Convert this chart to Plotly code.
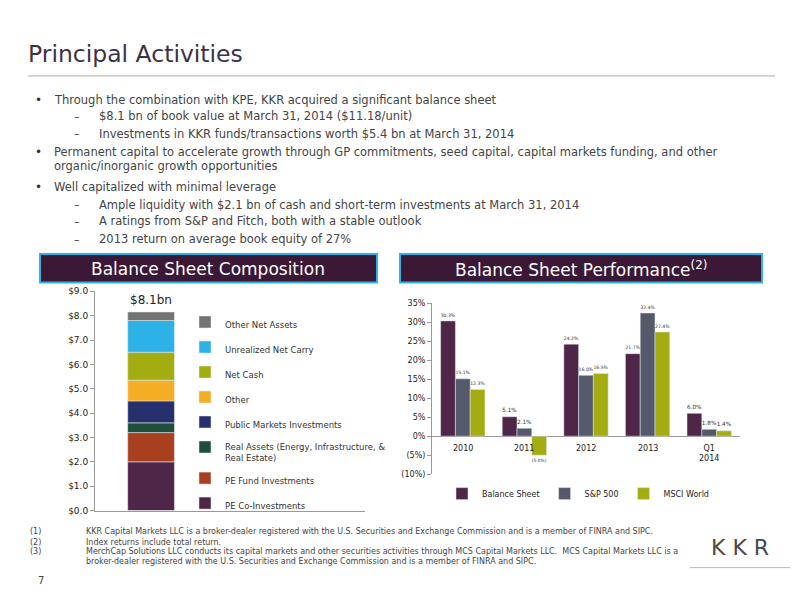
import plotly.graph_objects as go

comp_names = ["PE Co-Investments", "PE Fund Investments", "Real Assets (Energy, Infrastructure, &<br>Real Estate)",
              "Public Markets Investments", "Other", "Net Cash", "Unrealized Net Carry", "Other Net Assets"]
comp_values = [2.0, 1.2, 0.4, 0.9, 0.85, 1.15, 1.3, 0.35]
comp_colors = ["#4f2548", "#a8401f", "#1f4f3a", "#27306e", "#f5ad25", "#a3ad12", "#2cb2e6", "#737373"]
comp_ticks = ["$0.0", "$1.0", "$2.0", "$3.0", "$4.0", "$5.0", "$6.0", "$7.0", "$8.0", "$9.0"]

perf_cats = ["2010", "2011", "2012", "2013", "Q1<br>2014"]
perf_series = {
    "Balance Sheet": [30.3, 5.1, 24.2, 21.7, 6.0],
    "S&P 500": [15.1, 2.1, 16.0, 32.4, 1.8],
    "MSCI World": [12.3, -5.0, 16.5, 27.4, 1.4],
}
perf_colors = ["#4f2548", "#545a6b", "#a3ad12"]
perf_ticks = [-10, -5, 0, 5, 10, 15, 20, 25, 30, 35]

FONT = "DejaVu Sans"
OX, OY = 8, 8
def px(x): return (x - OX) / 800
def py(y): return 1 - (y - OY) / 600

fig = go.Figure()

base = 0
n_comp = len(comp_names)
for i, (n, v, c) in enumerate(zip(comp_names, comp_values, comp_colors)):
    fig.add_trace(go.Bar(x=[0], y=[v], base=[base], name=n, marker_color=c, width=0.9, xaxis="x", yaxis="y",
                         offsetgroup="stack", legendgroup=f"g{i}", legendrank=n_comp - i, legend="legend"))
    base += v
fig.add_annotation(x=0, y=sum(comp_values), xref="x", yref="y", text="$8.1bn", showarrow=False,
                   yanchor="bottom", yshift=3, font=dict(size=12, color="#222"))

def fmt(v):
    return f"({abs(v):.1f}%)" if v < 0 else f"{v:.1f}%"

for (n, vals), c in zip(perf_series.items(), perf_colors):
    fig.add_trace(go.Bar(x=list(range(5)), y=vals, name=n, marker_color=c, xaxis="x2", yaxis="y2",
                         offsetgroup=n, text=[fmt(v) for v in vals], textposition="outside", cliponaxis=False,
                         textfont=dict(size=7, color="#333"), legend="legend2"))
for i, cat in enumerate(perf_cats):
    fig.add_annotation(x=i, y=-1.5, xref="x2", yref="y2", text=cat, showarrow=False, yanchor="top",
                       font=dict(size=8, color="#222"))

fig.update_layout(
    width=800, height=600, margin=dict(l=0, r=0, t=0, b=0), paper_bgcolor="white", plot_bgcolor="white",
    font=dict(family=FONT, color="#333"), barmode="group", showlegend=True, bargap=0.28,
    xaxis=dict(domain=[px(95), px(365)], range=[-1.08, 4.12], showticklabels=False, showline=True,
               linecolor="#999", showgrid=False, zeroline=False),
    yaxis=dict(domain=[py(514), py(291)], range=[0, 9], tickvals=list(range(10)), ticktext=comp_ticks,
               showline=True, linecolor="#999", ticks="outside", ticklen=4, tickcolor="#999",
               showgrid=False, zeroline=False, tickfont=dict(size=9, color="#222")),
    xaxis2=dict(domain=[px(432), px(740)], range=[-0.5, 4.5], showticklabels=False, showgrid=False,
                zeroline=False, showline=False, anchor="y2"),
    yaxis2=dict(domain=[py(477), py(303)], range=[-10, 35], tickvals=perf_ticks,
                ticktext=[f"({-t}%)" if t < 0 else f"{t}%" for t in perf_ticks], anchor="x2",
                showline=True, linecolor="#999", ticks="outside", ticklen=4, tickcolor="#999",
                showgrid=False, zeroline=True, zerolinecolor="#999", zerolinewidth=1,
                tickfont=dict(size=8, color="#222")),
    legend=dict(x=px(185), y=py(310), xanchor="left", yanchor="top", traceorder="grouped",
                tracegroupgap=6, font=dict(size=8.5, color="#333"), itemwidth=30, bgcolor="rgba(0,0,0,0)",
                valign="top"),
    legend2=dict(x=px(578), y=py(482), xanchor="center", yanchor="top", orientation="h",
                 traceorder="normal", font=dict(size=8, color="#222"), bgcolor="rgba(0,0,0,0)",
                 itemwidth=30),
)

shapes = [
    dict(type="line", xref="paper", yref="paper", x0=px(28), x1=px(775), y0=py(72), y1=py(72),
         line=dict(color="#aaa", width=1)),
    dict(type="rect", xref="paper", yref="paper", x0=px(40), x1=px(377), y0=py(282), y1=py(253),
         fillcolor="#3a1836", line=dict(color="#2cb2e6", width=2)),
    dict(type="rect", xref="paper", yref="paper", x0=px(400), x1=px(762), y0=py(282), y1=py(253),
         fillcolor="#3a1836", line=dict(color="#2cb2e6", width=2)),
    dict(type="line", xref="paper", yref="paper", x0=px(690), x1=px(790), y0=py(572), y1=py(572),
         line=dict(color="#bbb", width=1)),
]
fig.update_layout(shapes=shapes)

def txt(x, y, s, size, color="#333", anchor="left", **kw):
    fig.add_annotation(x=px(x), y=py(y), xref="paper", yref="paper", text=s, showarrow=False,
                       xanchor=anchor, yanchor="middle", font=dict(size=size, color=color, family=FONT), **kw)

txt(26, 50, "Principal Activities", 23.5, "#3d3346")
lines = [
    (38, 52, 96, "Through the combination with KPE, KKR acquired a significant balance sheet", True),
    (77, 97, 113, "$8.1 bn of book value at March 31, 2014 ($11.18/unit)", False),
    (77, 97, 131, "Investments in KKR funds/transactions worth $5.4 bn at March 31, 2014", False),
    (38, 52, 149, "Permanent capital to accelerate growth through GP commitments, seed capital, capital markets funding, and other", True),
    (38, 52, 164, "organic/inorganic growth opportunities", None),
    (38, 52, 185, "Well capitalized with minimal leverage", True),
    (77, 97, 203, "Ample liquidity with $2.1 bn of cash and short-term investments at March 31, 2014", False),
    (77, 97, 220, "A ratings from S&P and Fitch, both with a stable outlook", False),
    (77, 97, 238, "2013 return on average book equity of 27%", False),
]
for bx, tx, y, s, b in lines:
    if b is True:
        txt(bx, y, "•", 12, "#333", "center")
    elif b is False:
        txt(bx, y, "–", 11, "#333", "center")
    txt(tx, y, s, 11.5, "#444")

txt(208, 268, "Balance Sheet Composition", 17, "white", "center")
txt(581, 268, "Balance Sheet Performance<sup>(2)</sup>", 17, "white", "center")

foot = [
    (535, "(1)", "KKR Capital Markets LLC is a broker-dealer registered with the U.S. Securities and Exchange Commission and is a member of FINRA and SIPC."),
    (546, "(2)", "Index returns include total return."),
    (556, "(3)", "MerchCap Solutions LLC conducts its capital markets and other securities activities through MCS Capital Markets LLC.  MCS Capital Markets LLC is a"),
    (566, "", "broker-dealer registered with the U.S. Securities and Exchange Commission and is a member of FINRA and SIPC."),
]
for y, n, s in foot:
    if n:
        txt(28, y, n, 8, "#444")
    txt(84, y, s, 8, "#444")
txt(36, 585, "7", 10, "#444")
txt(740, 552, "K K R", 22, "#4a4a4a", "center")

fig.write_html("out.html")
